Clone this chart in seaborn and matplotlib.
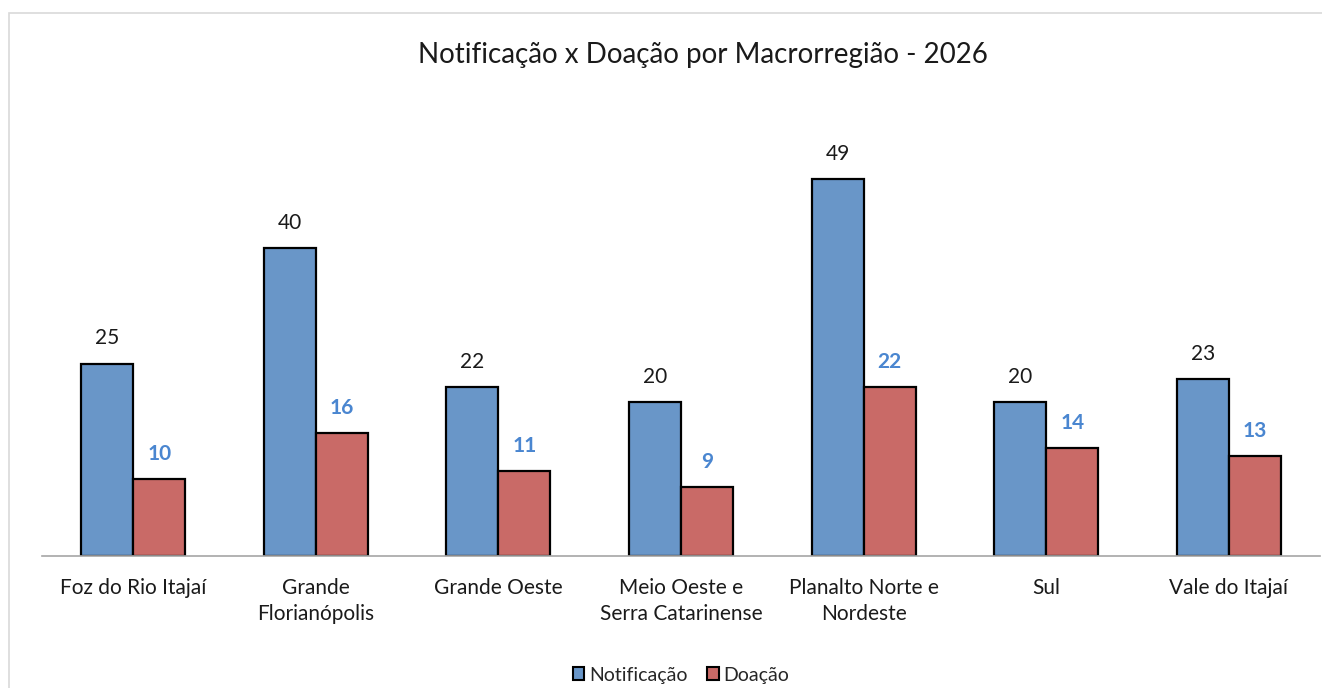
import matplotlib
matplotlib.use("Agg")
import matplotlib.pyplot as plt
import seaborn as sns
import pandas as pd
from matplotlib.patches import Rectangle, Patch

categories = ["Foz do Rio Itajaí", "Grande\nFlorianópolis", "Grande Oeste",
              "Meio Oeste e\nSerra Catarinense", "Planalto Norte e\nNordeste",
              "Sul", "Vale do Itajaí"]
notificacao = [25, 40, 22, 20, 49, 20, 23]
doacao = [10, 16, 11, 9, 22, 14, 13]
series_names = ["Notificação", "Doação"]
colors = ["#6996C8", "#C96A67"]
title = "Notificação x Doação por Macrorregião - 2026"

df = pd.DataFrame({
    "Macrorregião": categories * 2,
    "Série": [series_names[0]] * len(categories) + [series_names[1]] * len(categories),
    "Valor": notificacao + doacao,
})

sns.set_theme(style="white")
plt.rcParams["font.family"] = ["Lato", "DejaVu Sans"]

W, H = 1322, 688
fig = plt.figure(figsize=(W / 100, H / 100), dpi=100)
ax = fig.add_axes([42 / W, (H - 556) / H, (1320 - 42) / W, 461.4 / H])

sns.barplot(data=df, x="Macrorregião", y="Valor", hue="Série", order=categories,
            hue_order=series_names, palette=colors, width=0.57, edgecolor="black",
            linewidth=1.6, saturation=1, ax=ax, legend=False, errorbar=None)

ax.set_ylim(0, 60)
ax.set_xlim(-0.5, len(categories) - 0.5)
ax.set_xlabel("")
ax.set_ylabel("")
ax.set_yticks([])
for s in ["top", "right", "left"]:
    ax.spines[s].set_visible(False)
ax.spines["bottom"].set_color("#A6A6A6")
ax.spines["bottom"].set_linewidth(1.2)
ax.tick_params(axis="x", length=0, pad=16, labelsize=15, labelcolor="#1a1a1a")
for lbl in ax.get_xticklabels():
    lbl.set_linespacing(1.35)

ax.bar_label(ax.containers[0], padding=11, fontsize=15, color="#1a1a1a")
ax.bar_label(ax.containers[1], padding=11, fontsize=15, color="#4A86D0", fontweight="bold")

fig.text(703 / W, (H - 55) / H, title, ha="center", va="center", fontsize=20, color="#1a1a1a")

handles = [Patch(facecolor=c, edgecolor="black", linewidth=1.5) for c in colors]
fig.legend(handles, series_names, loc="center", bbox_to_anchor=(681 / W, (H - 675) / H),
           ncol=2, frameon=False, fontsize=14, handlelength=0.6, handleheight=0.6,
           handletextpad=0.25, columnspacing=1.0)

fig.patches.append(Rectangle((9 / W, -0.01), 1.1, (H - 13) / H + 0.01,
                             transform=fig.transFigure, fill=False,
                             edgecolor="#D9D9D9", linewidth=1.2))

fig.savefig("out.png", dpi=100)
